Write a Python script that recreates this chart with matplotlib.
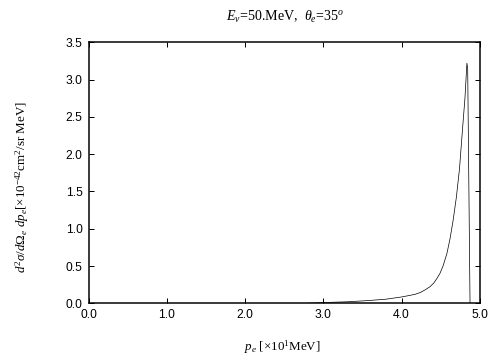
import numpy as np
import matplotlib.pyplot as plt

# values
p_e = [2.8, 3.0, 3.3, 3.55, 3.8, 4.0, 4.1, 4.17, 4.24, 4.3, 4.36, 4.41,
       4.45, 4.49, 4.53, 4.58, 4.62, 4.66, 4.70, 4.74, 4.78, 4.81, 4.835,
       4.845, 4.875]
xsec = [0.0, 0.01, 0.02, 0.035, 0.055, 0.085, 0.105, 0.12, 0.145, 0.18,
        0.22, 0.27, 0.33, 0.40, 0.5, 0.67, 0.87, 1.12, 1.42, 1.8, 2.35,
        2.75, 3.22, 3.15, 0.0]

xticks = [0.0, 1.0, 2.0, 3.0, 4.0, 5.0]
yticks = [0.0, 0.5, 1.0, 1.5, 2.0, 2.5, 3.0, 3.5]

plt.rcParams['mathtext.fontset'] = 'custom'
plt.rcParams['mathtext.rm'] = 'Liberation Serif'
plt.rcParams['mathtext.it'] = 'Liberation Serif:italic'

fig = plt.figure(figsize=(7, 5), dpi=72)
ax = fig.add_axes([0.176, 0.1575, 0.776, 0.725])

ax.plot(p_e, xsec, color="black", linewidth=0.7)

ax.set_xlim(0, 5)
ax.set_ylim(0, 3.5)
ax.set_xticks(xticks)
ax.set_yticks(yticks)
ax.set_xticklabels(["%.1f" % v for v in xticks], family="Liberation Sans", fontsize=12)
ax.set_yticklabels(["%.1f" % v for v in yticks], family="Liberation Sans", fontsize=12)
ax.tick_params(direction="in", length=5, width=1, top=True, right=True, pad=6)
for s in ax.spines.values():
    s.set_linewidth(1.5)

fig.text(0.565, 0.953, r"$E_\nu$=50.MeV,  $\theta_e$=35$^o$",
         ha="center", va="center", family="Liberation Serif", fontsize=14)
fig.text(0.045, 0.48,
         r"$d^2\sigma/d\Omega_e\ dp_e$[$\times$10$^{-42}$cm$^2$/sr MeV]",
         ha="center", va="center", rotation=90, family="Liberation Serif", fontsize=13)
fig.text(0.56, 0.035, r"$p_e$ [$\times$10$^1$MeV]",
         ha="center", va="center", family="Liberation Serif", fontsize=13)

plt.savefig("out.png", dpi=72)
